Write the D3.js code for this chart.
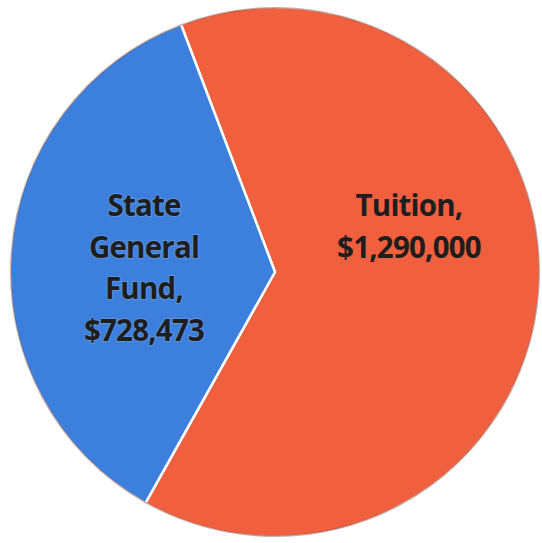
<!DOCTYPE html>
<html>
<head>
<meta charset="utf-8">
<script src="https://cdn.jsdelivr.net/npm/d3@7"></script>
<style>
  html, body { margin: 0; padding: 0; background: #ffffff; }
  svg { display: block; }
</style>
</head>
<body>
<script>
// ---- data ----
const categories = ["Tuition", "State General Fund"];
const values = [1290000, 728473];
const colors = ["#f1603e", "#3c7fdc"];

// ---- layout ----
const W = 542, H = 543;
const cx = 275, cy = 272, R = 265;
const startAngle = -0.363;
const labelPos = [
  { x: 409, y: 216, wrap: 280 },
  { x: 144, y: 216, wrap: 125 }
];
const lineH = 41.5;

const svg = d3.select("body").append("svg")
  .attr("width", W).attr("height", H);

const g = svg.append("g").attr("transform", `translate(${cx},${cy})`);

const data = categories.map((c, i) => ({ category: c, value: values[i], color: colors[i] }));

const pie = d3.pie().sort(null).value(d => d.value)
  .startAngle(startAngle).endAngle(startAngle + 2 * Math.PI);
const arc = d3.arc().innerRadius(0).outerRadius(R);
const arcs = pie(data);

g.selectAll("path.slice").data(arcs).join("path")
  .attr("class", "slice")
  .attr("d", arc)
  .attr("fill", d => d.data.color)
  .attr("stroke", "#ffffff")
  .attr("stroke-width", 2.5)
  .attr("stroke-linejoin", "round");

// subtle darker rim
g.selectAll("path.rim").data(arcs).join("path")
  .attr("class", "rim")
  .attr("d", d3.arc().innerRadius(R - 1.5).outerRadius(R))
  .attr("fill", "rgba(90,20,10,0.35)");

const fmt = d3.format("$,");

arcs.forEach((a, i) => {
  const p = labelPos[i];
  const text = svg.append("text")
    .attr("text-anchor", "middle")
    .attr("font-family", "'Open Sans', 'Noto Sans', sans-serif")
    .attr("font-weight", 700)
    .attr("font-size", 29.5)
    .attr("letter-spacing", -0.8)
    .attr("fill", "#1e1e1e")
    .style("paint-order", "stroke")
    .attr("stroke", i === 1 ? "rgba(255,255,255,0.18)" : "none")
    .attr("stroke-width", 2);
  // word wrap the category name
  const words = (a.data.category + ",").split(" ");
  const lines = [];
  let cur = [];
  const probe = text.append("tspan");
  words.forEach(w => {
    const t = cur.concat([w]).join(" ");
    probe.text(t);
    if (probe.node().getComputedTextLength() > p.wrap && cur.length) {
      lines.push(cur.join(" "));
      cur = [w];
    } else cur.push(w);
  });
  if (cur.length) lines.push(cur.join(" "));
  probe.remove();
  lines.push(fmt(a.data.value));
  lines.forEach((ln, k) => {
    text.append("tspan").attr("x", p.x).attr("y", p.y + k * lineH).text(ln);
  });
});
</script>
</body>
</html>
